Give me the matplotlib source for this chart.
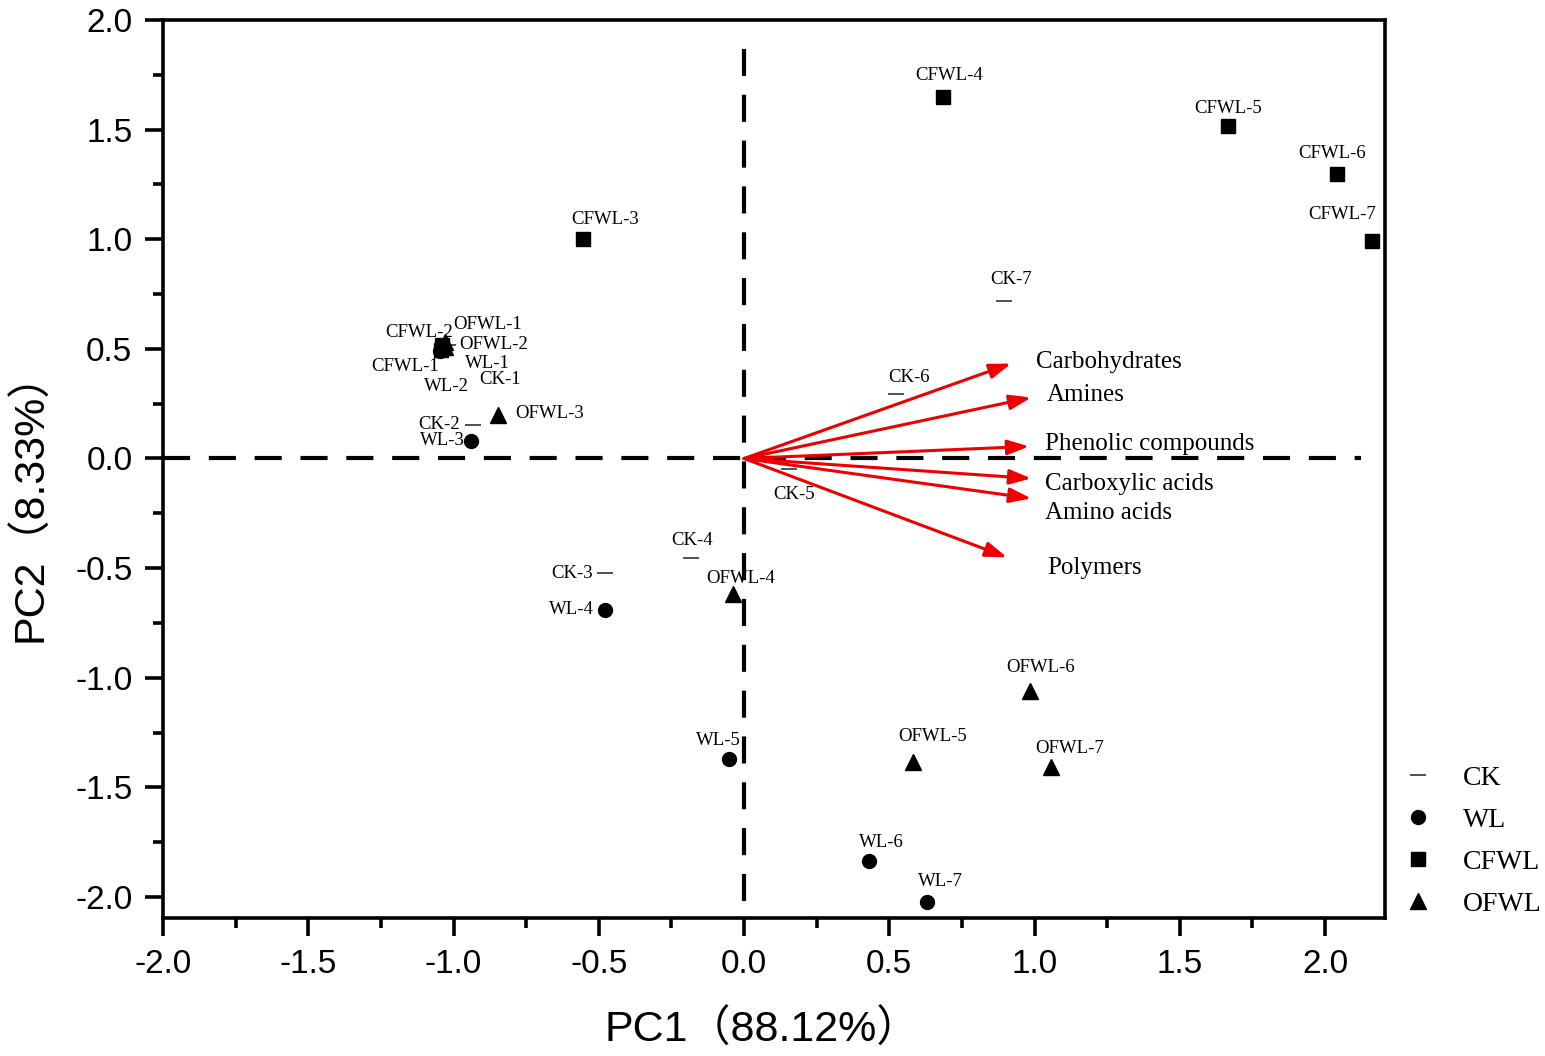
import matplotlib
matplotlib.use("Agg")
import matplotlib.pyplot as plt
from matplotlib.lines import Line2D
from matplotlib.ticker import MultipleLocator


# sample scores (PC1, PC2)
ck_names = ["CK-1", "CK-2", "CK-3", "CK-4", "CK-5", "CK-6", "CK-7"]
ck_pc1 = [-1.02, -0.933, -0.478, -0.182, 0.155, 0.523, 0.895]
ck_pc2 = [0.52, 0.155, -0.524, -0.456, -0.046, 0.296, 0.72]

wl_names = ["WL-1", "WL-2", "WL-3", "WL-4", "WL-5", "WL-6", "WL-7"]
wl_pc1 = [-1.04, -1.045, -0.94, -0.478, -0.052, 0.430, 0.630]
wl_pc2 = [0.50, 0.49, 0.082, -0.689, -1.372, -1.838, -2.025]

cfwl_names = ["CFWL-1", "CFWL-2", "CFWL-3", "CFWL-4", "CFWL-5", "CFWL-6", "CFWL-7"]
cfwl_pc1 = [-1.043, -1.04, -0.554, 0.685, 1.666, 2.041, 2.162]
cfwl_pc2 = [0.497, 0.52, 1.003, 1.651, 1.518, 1.30, 0.99]

ofwl_names = ["OFWL-1", "OFWL-2", "OFWL-3", "OFWL-4", "OFWL-5", "OFWL-6", "OFWL-7"]
ofwl_pc1 = [-1.03, -1.03, -0.847, -0.038, 0.582, 0.985, 1.057]
ofwl_pc2 = [0.53, 0.51, 0.20, -0.616, -1.386, -1.062, -1.409]

# loadings (arrow tips)
var_names = ["Carbohydrates", "Amines", "Phenolic compounds",
             "Carboxylic acids", "Amino acids", "Polymers"]
var_pc1 = [0.919, 0.988, 0.981, 0.988, 0.988, 0.905]
var_pc2 = [0.433, 0.278, 0.055, -0.091, -0.182, -0.451]

# label offsets in pixels (dx, dy) relative to each point
lab_off = {
    "CK-1": (52, -35), "CK-2": (-34, 0), "CK-3": (-33, 0), "CK-4": (1, 18),
    "CK-5": (5, -26), "CK-6": (13, 16), "CK-7": (7, 21),
    "WL-1": (46, -15), "WL-2": (6, -35), "WL-3": (-29, 0), "WL-4": (-34, 0),
    "WL-5": (-11, 19), "WL-6": (12, 19), "WL-7": (13, 21),
    "CFWL-1": (-36, -17), "CFWL-2": (-23, 12), "CFWL-3": (22, 19),
    "CFWL-4": (6, 21), "CFWL-5": (0, 17), "CFWL-6": (-5, 20), "CFWL-7": (-30, 27),
    "OFWL-1": (43, 18), "OFWL-2": (49, 2), "OFWL-3": (52, 1), "OFWL-4": (8, 15),
    "OFWL-5": (19, 26), "OFWL-6": (10, 24), "OFWL-7": (18, 19),
}
var_off = [(25, 2), (16, 3), (16, 2), (14, -6), (14, -15), (40, -11)]

serif = ["Liberation Serif", "DejaVu Serif"]
sans = ["Liberation Sans", "Noto Sans CJK SC", "DejaVu Sans"]

fig = plt.figure(figsize=(15.45, 10.56), dpi=100)
ax = fig.add_axes([0.1055, 0.1307, 0.7909, 0.8503])

# dashed zero lines
ax.plot([-2.0, 2.125], [0, 0], color="black", lw=3, dashes=(6.5, 4.5), zorder=1)
ax.plot([0, 0], [-2.02, 1.94], color="black", lw=3, dashes=(6.5, 4.5), zorder=1)

# loadings arrows
for nm, x, y, off in zip(var_names, var_pc1, var_pc2, var_off):
    ax.annotate("", xy=(x, y), xytext=(0, 0),
                arrowprops=dict(arrowstyle="-|>,head_length=1.3,head_width=0.45",
                                color="#ee0000", lw=2.2, shrinkA=0, shrinkB=0),
                zorder=3)
    ax.annotate(nm, xy=(x, y), xytext=off, textcoords="offset pixels",
                ha="left", va="center", fontsize=18, family=serif)

groups = [
    (ck_names, ck_pc1, ck_pc2, dict(marker="_", ms=12, mew=1.2, color="#333333")),
    (wl_names, wl_pc1, wl_pc2, dict(marker="o", ms=10, color="black")),
    (ofwl_names, ofwl_pc1, ofwl_pc2, dict(marker="^", ms=12, color="black")),
    (cfwl_names, cfwl_pc1, cfwl_pc2, dict(marker="s", ms=9.5, color="black")),
]
for names, xs, ys, st in groups:
    ax.plot(xs, ys, ls="none", zorder=4, **st)
    for nm, x, y in zip(names, xs, ys):
        dx, dy = lab_off[nm]
        ax.annotate(nm, xy=(x, y), xytext=(dx, dy), textcoords="offset pixels",
                    ha="center", va="center", fontsize=13.5, family=serif, zorder=5)

ax.set_xlim(-2.0, 2.206)
ax.set_ylim(-2.096, 2.0)
ax.xaxis.set_minor_locator(MultipleLocator(0.25))
ax.yaxis.set_minor_locator(MultipleLocator(0.25))
ticks = [-2.0, -1.5, -1.0, -0.5, 0.0, 0.5, 1.0, 1.5, 2.0]
tick_labels = ["-2.0", "-1.5", "-1.0", "-0.5", "0.0", "0.5", "1.0", "1.5", "2.0"]
ax.set_xticks(ticks)
ax.set_xticklabels(tick_labels)
ax.set_yticks(ticks)
ax.set_yticklabels(tick_labels)
ax.tick_params(which="major", direction="out", length=13, width=2.6, pad=9,
               labelsize=24)
ax.tick_params(which="minor", direction="out", length=7.5, width=2.6)
for lab in ax.get_xticklabels() + ax.get_yticklabels():
    lab.set_family(sans)
for sp in ax.spines.values():
    sp.set_linewidth(2.6)

ax.set_xlabel("PC1（88.12%）", fontsize=31, family=sans, labelpad=22)
ax.set_ylabel("PC2（8.33%）", fontsize=31, family=sans, labelpad=17)
ax.xaxis.label.set_x(0.49)
ax.yaxis.label.set_y(0.47)

handles = [
    Line2D([], [], ls="none", marker="_", ms=12, mew=1.2, color="#333333"),
    Line2D([], [], ls="none", marker="o", ms=10, color="black"),
    Line2D([], [], ls="none", marker="s", ms=9.5, color="black"),
    Line2D([], [], ls="none", marker="^", ms=12, color="black"),
]
fig.legend(handles, ["CK", "WL", "CFWL", "OFWL"], loc="upper left",
           bbox_to_anchor=(0.891, 0.299), frameon=False, labelspacing=0.6,
           handletextpad=1.0, handlelength=1.2, prop=dict(family=serif, size=20))

fig.savefig("out.png", dpi=100)
